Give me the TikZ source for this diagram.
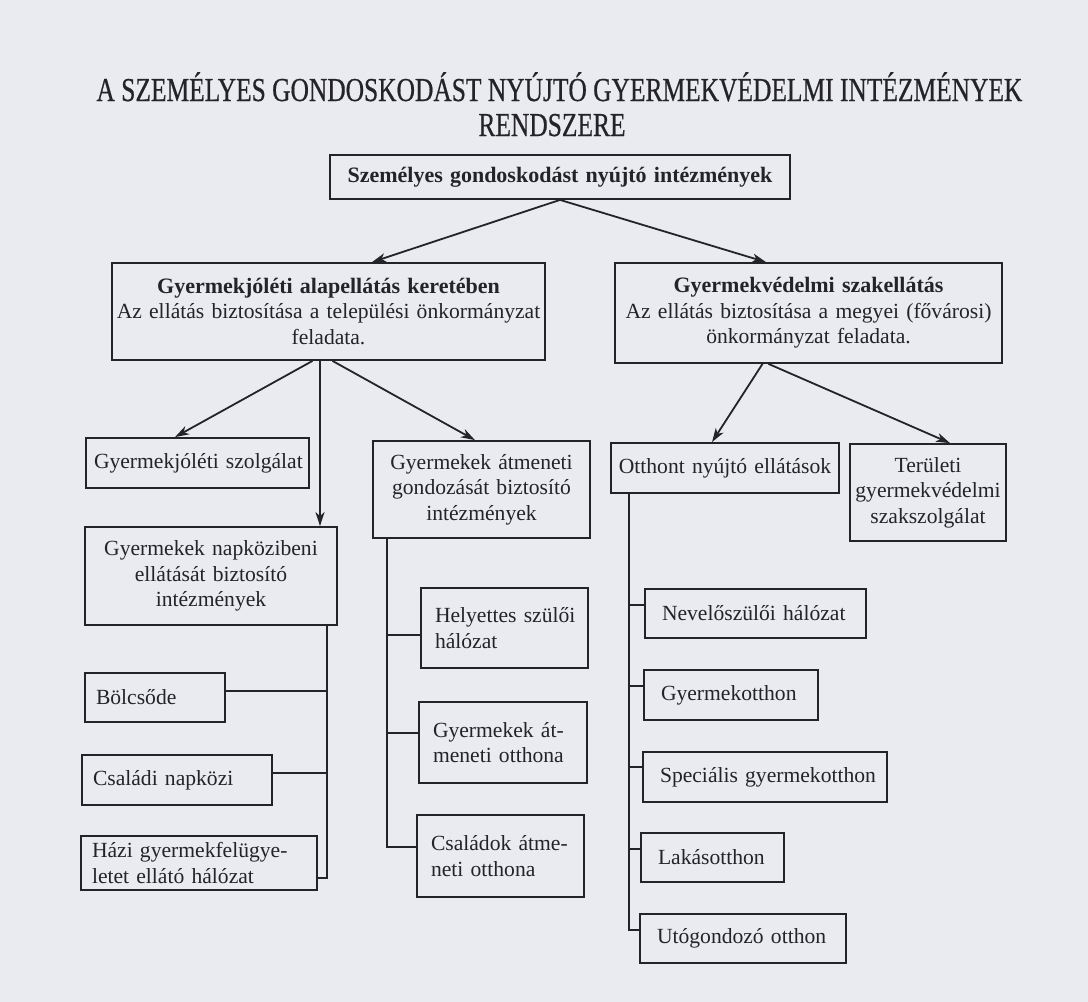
\documentclass[tikz,border=0pt]{standalone}
\usepackage{fontspec}
\setmainfont{Liberation Serif}
\newfontfamily\titlefont[FakeStretch=0.76,FakeBold=0.5]{Liberation Serif}
\usetikzlibrary{arrows.meta,calc}
\definecolor{bg}{RGB}{233,235,240}
\definecolor{ink}{RGB}{35,35,40}
\begin{document}
\begin{tikzpicture}[x=1pt,y=-1pt,
  bx/.style={draw=ink, line width=1.8pt, inner ysep=0pt, text=ink,
    font=\fontsize{21.6}{25.5}\selectfont},
  cbox/.style={bx, align=center, inner xsep=3pt},
  lbox/.style={bx, align=left, inner xsep=#1},
  ttl/.style={text=ink, font=\titlefont\fontsize{33.5}{38}\selectfont, inner sep=0pt, anchor=base},
  arr/.style={draw=ink, line width=1.8pt, -{Stealth[length=14pt,width=9pt,inset=4pt]}},
  ln/.style={draw=ink, line width=1.8pt}
]
\useasboundingbox (0,0) rectangle (1088,1002);
\fill[bg] (0,0) rectangle (1088,1002);

% title
\node[ttl] (t1) at (559.5,101) {A SZEMÉLYES GONDOSKODÁST NYÚJTÓ GYERMEKVÉDELMI INTÉZMÉNYEK};
\node[ttl] (t2) at (552,136) {RENDSZERE};

% level 0 and 1
\node[cbox, minimum width=460pt, minimum height=44pt, text width=454pt] (top) at (560,177)
  {\fontsize{22}{25.5}\selectfont\bfseries Személyes gondoskodást nyújtó intézmények};
\node[cbox, minimum width=433pt, minimum height=97pt, text width=427pt] (L1) at (328.5,311.5)
  {{\fontsize{22}{25.5}\selectfont\bfseries Gyermekjóléti alapellátás keretében}\\
   Az ellátás biztosítása a települési önkormányzat\\feladata.};
\node[cbox, minimum width=387pt, minimum height=100pt, text width=381pt] (R1) at (808.5,313)
  {{\fontsize{22}{25.5}\selectfont\bfseries Gyermekvédelmi szakellátás}\\
   Az ellátás biztosítása a megyei (fővárosi)\\önkormányzat feladata.};

% left branch
\node[lbox=8pt, minimum height=50pt, text width=207pt] (gysz) at (197.5,463)
  {\mbox{Gyermekjóléti szolgálat}};
\node[cbox, minimum width=252pt, minimum height=98pt, text width=246pt] (napk) at (211,576)
  {Gyermekek napközibeni\\ellátását biztosító\\intézmények};
\node[lbox=11pt, minimum height=49pt, text width=118pt] (bolcs) at (155,697.5)
  {\mbox{Bölcsőde}};
\node[lbox=11pt, minimum height=50pt, text width=168pt] (csal) at (177,780)
  {\mbox{Családi napközi}};
\node[lbox=11pt, minimum height=54pt, text width=214pt] (hazi) at (199,863)
  {\mbox{Házi gyermekfelügye-}\\\mbox{letet ellátó hálózat}};

% middle branch
\node[cbox, minimum width=217pt, minimum height=97pt, text width=211pt] (atm) at (481.5,489.5)
  {Gyermekek átmeneti\\gondozását biztosító\\intézmények};
\node[lbox=14pt, minimum height=80pt, text width=139pt] (hely) at (504.5,628)
  {\mbox{Helyettes szülői}\\\mbox{hálózat}};
\node[lbox=14pt, minimum height=81pt, text width=140pt] (gyatm) at (503,742.5)
  {\mbox{Gyermekek át-}\\\mbox{meneti otthona}};
\node[lbox=14pt, minimum height=82pt, text width=139pt] (csatm) at (500.5,856)
  {\mbox{Családok átme-}\\\mbox{neti otthona}};

% right branch
\node[cbox, minimum width=228pt, minimum height=50pt, text width=222pt] (otth) at (725,468)
  {Otthont nyújtó ellátások};
\node[cbox, minimum width=156pt, minimum height=97pt, text width=154pt, inner xsep=1pt] (ter) at (928,492.5)
  {Területi\\gyermekvédelmi\\szakszolgálat};
\node[lbox=17pt, minimum height=49pt, text width=187pt] (nev) at (755.5,613.5)
  {\mbox{Nevelőszülői hálózat}};
\node[lbox=17pt, minimum height=50pt, text width=140pt] (gyo) at (731,695)
  {\mbox{Gyermekotthon}};
\node[lbox=17pt, minimum height=50pt, text width=210pt] (spec) at (765,777)
  {\mbox{Speciális gyermekotthon}};
\node[lbox=17pt, minimum height=49pt, text width=109pt] (lak) at (712.5,857.5)
  {\mbox{Lakásotthon}};
\node[lbox=17pt, minimum height=49pt, text width=172pt] (utog) at (743,938.5)
  {\mbox{Utógondozó otthon}};

% arrows from top
\draw[arr] (top.south) -- ([xshift=43.5pt]L1.north);
\draw[arr] (top.south) -- ([xshift=-42.5pt]R1.north);

% arrows from L1
\draw[arr] ([xshift=-16pt]L1.south) -- ([xshift=-22.5pt]gysz.north);
\draw[arr] ([xshift=-8.5pt]L1.south) -- ([xshift=109pt]napk.north);
\draw[arr] ([xshift=4pt]L1.south) -- ([xshift=-6.5pt]atm.north);

% arrows from R1
\draw[arr] ([xshift=-46pt]R1.south) -- ([xshift=-13pt]otth.north);
\draw[arr] ([xshift=-40pt]R1.south) -- ([xshift=22pt]ter.north);

% left tree
\coordinate (vl) at ([xshift=116pt]napk.south);
\draw[ln] (vl) -- ([yshift=-15pt]hazi.east -| vl) -- ([yshift=-15pt]hazi.east);
\draw[ln] ([yshift=6.5pt]bolcs.east) -- ([yshift=6.5pt]bolcs.east -| vl);
\draw[ln] ([yshift=7pt]csal.east) -- ([yshift=7pt]csal.east -| vl);

% middle tree
\coordinate (vm) at ([xshift=-94.5pt]atm.south);
\draw[ln] (vm) -- ([yshift=9pt]csatm.west -| vm) -- ([yshift=9pt]csatm.west);
\draw[ln] ([yshift=-7pt]hely.west) -- ([yshift=-7pt]hely.west -| vm);
\draw[ln] ([yshift=9.5pt]gyatm.west) -- ([yshift=9.5pt]gyatm.west -| vm);

% right tree
\coordinate (vr) at ([xshift=-96pt]otth.south);
\draw[ln] (vr) -- ([yshift=8.5pt]utog.west -| vr) -- ([yshift=8.5pt]utog.west);
\draw[ln] ([yshift=8.5pt]nev.west) -- ([yshift=8.5pt]nev.west -| vr);
\draw[ln] ([yshift=9pt]gyo.west) -- ([yshift=9pt]gyo.west -| vr);
\draw[ln] ([yshift=10pt]spec.west) -- ([yshift=10pt]spec.west -| vr);
\draw[ln] ([yshift=8.5pt]lak.west) -- ([yshift=8.5pt]lak.west -| vr);
\end{tikzpicture}
\end{document}
